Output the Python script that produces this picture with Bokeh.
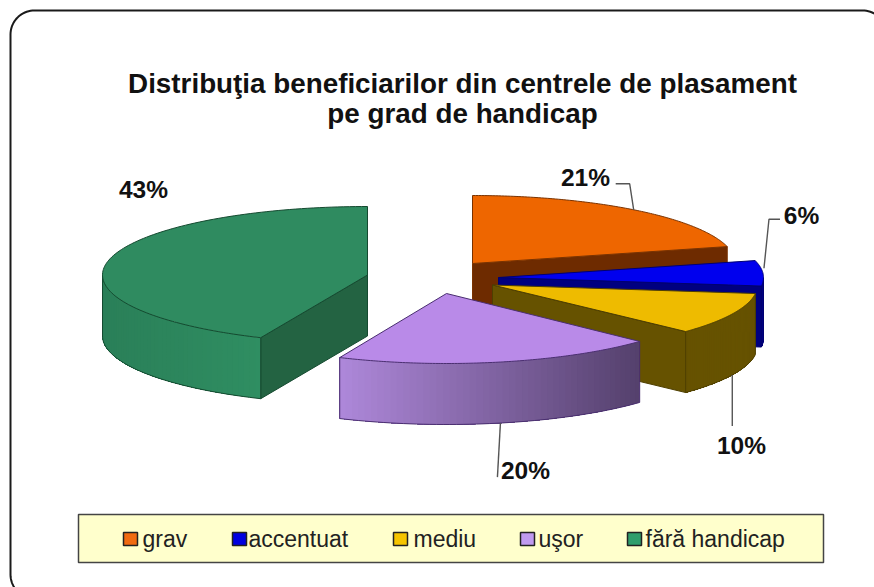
import numpy as np
from bokeh.plotting import figure
from bokeh.core.properties import value
from bokeh.embed import file_html
from bokeh.resources import INLINE

# --- data -------------------------------------------------------------
categories = ["grav", "accentuat", "mediu", "uşor", "fără handicap"]
shares = [21.0, 6.0, 10.0, 19.6, 43.4]
title_lines = ["Distribuţia beneficiarilor din centrele de plasament", "pe grad de handicap"]

# --- styling / layout -------------------------------------------------
top_colors = ["#EE6600", "#0000EE", "#EEBB00", "#B98AE8", "#2F8B60"]
swatch_colors = ["#F06A10", "#0000E0", "#F5C400", "#C09AF0", "#2F9E6C"]
radial_wall_colors = ["#6E2B00", "#000080", "#665200", None, "#236342"]
edge_colors = ["#7A3300", "#000070", "#4E3F00", "#4A2F70", "#154A30"]
CX = [472, 498, 492, 446, 367]
CY = [263, 277, 284.5, 293, 274.5]
RX = [263, 265, 265, 265, 265]
RY = [68, 68, 68, 70, 68.5]
DEPTH = 61

W, H = 874, 587
p = figure(width=W, height=H, x_range=(0, 874), y_range=(587, 0),
           output_backend="svg", toolbar_location=None, min_border=0,
           x_axis_location=None, y_axis_location=None,
           outline_line_color=None, background_fill_color="white",
           border_fill_color="white")
p.grid.visible = False
FONT = value("Liberation Sans")


def hex2rgb(c):
    return np.array([int(c[i:i + 2], 16) for i in (1, 3, 5)], dtype=float)


def rgb2hex(c):
    return "#%02X%02X%02X" % tuple(int(round(v)) for v in c)


def wall_color(i, x):
    if i == 3:  # purple wall runs light to dark from left to right
        t = np.clip((x - 339) / (640 - 339), 0, 1)
        return rgb2hex(hex2rgb("#AE88DA") * (1 - t) + hex2rgb("#54406C") * t)
    if i == 4:
        t = np.clip((x - 101) / (261 - 101), 0, 1)
        return rgb2hex(hex2rgb("#2A7F58") * (1 - t) + hex2rgb("#2F8E62") * t)
    if i == 2:
        return "#665200"
    if i == 1:
        return "#000080"
    return "#6E2B00"


def arc(i, a0, a1, n=60):
    a = np.radians(np.linspace(a0, a1, n))
    return CX[i] + RX[i] * np.sin(a), CY[i] - RY[i] * np.cos(a)


edges = np.concatenate([[0], np.cumsum(shares)]) * 3.6
mids = (edges[:-1] + edges[1:]) / 2

# --- frame ------------------------------------------------------------
fl, ft, fr, fb, fd = 10, 10, 886, 598, 24
t = np.linspace(0, np.pi / 2, 20)
fx = np.concatenate([fl + fd - fd * np.cos(t), fr - fd + fd * np.sin(t),
                     fr - fd + fd * np.cos(t), fl + fd - fd * np.sin(t), [fl]])
fy = np.concatenate([ft + fd - fd * np.sin(t), ft + fd - fd * np.cos(t),
                     fb - fd + fd * np.sin(t), fb - fd + fd * np.cos(t), [ft + fd]])
p.line(fx, fy, line_color="#1A1A1A", line_width=2)

# --- slices -----------------------------------------------------------
for i, (a0, a1) in enumerate(zip(edges[:-1], edges[1:])):
    cx, cy = CX[i], CY[i]
    color = radial_wall_colors[i]
    # radial wall facing the viewer
    if color is not None:
        ang = a1 if i < 3 else a0
        ex, ey = arc(i, ang, ang, 1)
        p.patch([cx, ex[0], ex[0], cx], [cy, ey[0], ey[0] + DEPTH, cy + DEPTH],
                fill_color=color, line_color=edge_colors[i], line_width=1)
    # outer wall, painted in overlapping bands so that it can be shaded
    lo, hi = max(a0, 90), min(a1, 270)
    if hi > lo:
        ax, ay = arc(i, lo, hi, 50)
        for k in range(len(ax) - 1):
            c = wall_color(i, (ax[k] + ax[k + 1]) / 2)
            p.patch(np.r_[ax[k:], ax[k:][::-1]], np.r_[ay[k:], ay[k:][::-1] + DEPTH],
                    fill_color=c, line_color=None)
        p.line(ax, ay + DEPTH, line_color=edge_colors[i], line_width=1)
        p.line([ax[0], ax[0]], [ay[0], ay[0] + DEPTH], line_color=edge_colors[i], line_width=1)
        p.line([ax[-1], ax[-1]], [ay[-1], ay[-1] + DEPTH], line_color=edge_colors[i], line_width=1)
    # top face
    ax, ay = arc(i, a0, a1, 120)
    p.patch(np.r_[cx, ax, cx], np.r_[cy, ay, cy], fill_color=top_colors[i],
            line_color=edge_colors[i], line_width=1)

# --- leader lines, anchored at each slice's mid angle -------------------
anchors = []
for i in range(5):
    ax, ay = arc(i, mids[i], mids[i], 1)
    anchors.append((ax[0], ay[0] + (DEPTH if 90 < mids[i] < 270 else 0)))
lead = "#555555"
ax, ay = anchors[0]
p.line([ax, ax - 4, ax - 18], [ay, ay - 26, ay - 26], line_color=lead, line_width=1.4)
ax, ay = anchors[1]
p.line([ax + 1, ax + 6, ax + 17], [ay - 5, ay - 54, ay - 54], line_color=lead, line_width=1.4)
ax, ay = anchors[2]
p.line([ax, ax], [ay, ay + 51], line_color=lead, line_width=1.4)
ax, ay = anchors[3]
p.line([ax + 1, ax - 2], [ay, ay + 54], line_color=lead, line_width=1.4)

# --- percentage labels --------------------------------------------------
label_x = [585, 801, 741, 525, 143]
label_y = [177, 215, 445, 470, 189]
p.text(label_x, label_y, text=[f"{s:.0f}%" for s in shares], text_font=FONT, text_font_style="bold",
       text_font_size="24.5px", text_align="center", text_baseline="middle", text_color="#111111")

# --- title --------------------------------------------------------------
p.text([462, 462], [83, 113], text=title_lines, text_font=FONT, text_font_style="bold",
       text_font_size="27.8px", text_align="center", text_baseline="middle", text_color="#111111")

# --- legend -------------------------------------------------------------
p.quad(left=[78], right=[823], top=[514], bottom=[562], fill_color="#FFFFCC",
       line_color="#444444", line_width=1.5)
swatch_x = [123, 232, 393, 520, 627]
text_x = [142, 248, 413, 538, 645]
p.quad(left=swatch_x, right=[x + 14 for x in swatch_x], top=[532] * 5, bottom=[545] * 5,
       fill_color=swatch_colors, line_color="#222222", line_width=1.5)
p.text(text_x, [538] * 5, text=categories, text_font=FONT, text_font_size="23px",
       text_align="left", text_baseline="middle", text_color="#222222")

open("out.html", "w").write(file_html(p, INLINE))
